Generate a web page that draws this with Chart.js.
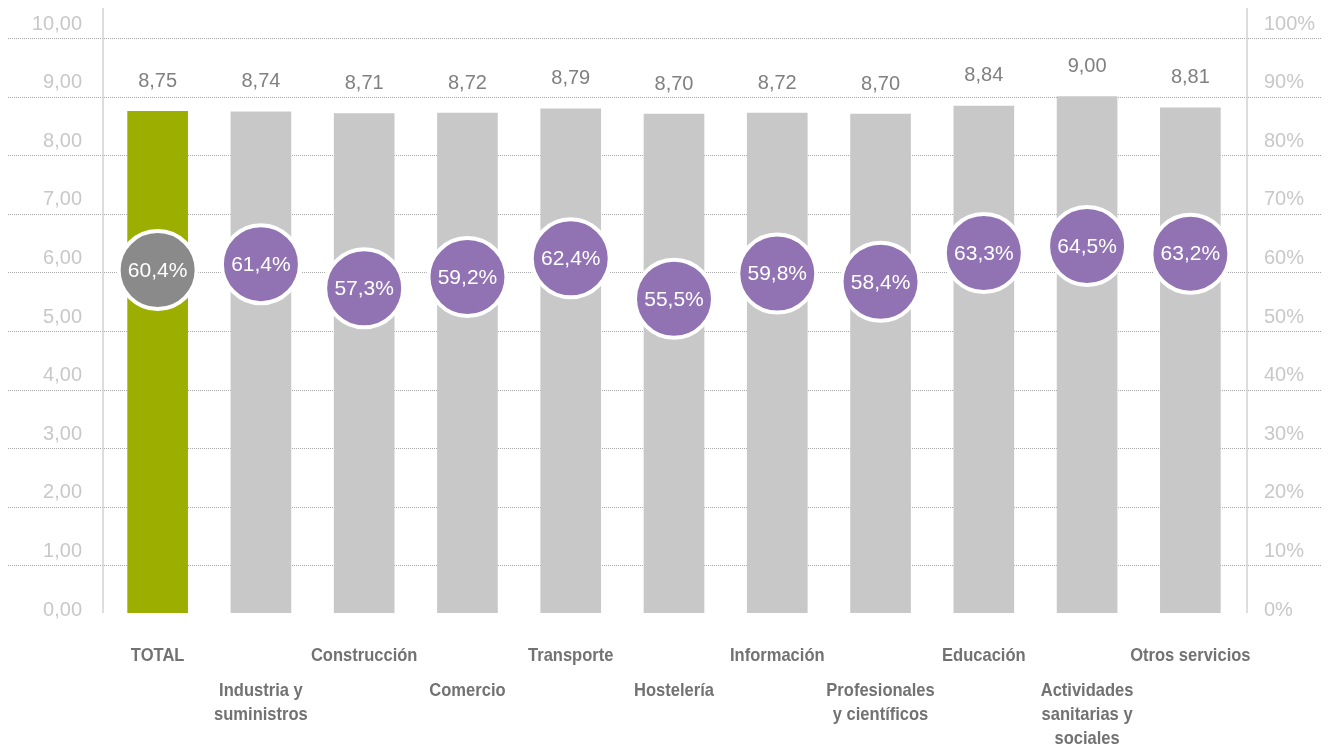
<!DOCTYPE html>
<html>
<head>
<meta charset="utf-8">
<script src="https://cdn.jsdelivr.net/npm/chart.js@4/dist/chart.umd.min.js"></script>
<style>
  html, body { margin:0; padding:0; background:#fff; }
  #wrap { width:1331px; height:754px; position:relative; }
</style>
</head>
<body>
<div id="wrap"><canvas id="myChart"></canvas></div>
<script>
const sectores = ['TOTAL', 'Industria y suministros', 'Construcción', 'Comercio', 'Transporte',
  'Hostelería', 'Información', 'Profesionales y científicos', 'Educación',
  'Actividades sanitarias y sociales', 'Otros servicios'];
// etiquetas partidas en lineas como en el grafico
const etiquetas = [['TOTAL'], ['Industria y', 'suministros'], ['Construcción'], ['Comercio'], ['Transporte'],
  ['Hostelería'], ['Información'], ['Profesionales', 'y científicos'], ['Educación'],
  ['Actividades', 'sanitarias y', 'sociales'], ['Otros servicios']];
const notas = [8.75, 8.74, 8.71, 8.72, 8.79, 8.70, 8.72, 8.70, 8.84, 9.00, 8.81];
const porcentajes = [60.4, 61.4, 57.3, 59.2, 62.4, 55.5, 59.8, 58.4, 63.3, 64.5, 63.2];

const coma = (v, d) => v.toFixed(d).replace('.', ',');

const extras = {
  id: 'extras',
  beforeDatasetsDraw(chart) {
    const c = chart.ctx, a = chart.chartArea, y = chart.scales.y;
    c.save();
    // lineas punteadas
    c.strokeStyle = '#a8a8a8';
    c.lineWidth = 1;
    c.setLineDash([1, 1]);
    for (let v = 1; v <= 10; v++) {
      const py = Math.round(y.getPixelForValue(v)) + 0.5;
      c.beginPath(); c.moveTo(8, py); c.lineTo(1322, py); c.stroke();
    }
    // ejes verticales
    c.setLineDash([]);
    c.strokeStyle = '#d2d2d2';
    c.lineWidth = 1.5;
    [a.left - 3, a.right + 5].forEach(px => {
      c.beginPath(); c.moveTo(px, 8); c.lineTo(px, a.bottom - 11); c.stroke();
    });
    c.restore();
  },
  afterDatasetsDraw(chart) {
    const c = chart.ctx, x = chart.scales.x;
    const barras = chart.getDatasetMeta(1).data;
    const puntos = chart.getDatasetMeta(0).data;
    c.save();
    c.textAlign = 'center';
    c.textBaseline = 'middle';
    c.font = '20px "Liberation Sans", Arial, sans-serif';
    c.fillStyle = '#808080';
    barras.forEach((b, i) => c.fillText(coma(notas[i], 2), b.x, b.y - 30));
    c.font = '21px "Liberation Sans", Arial, sans-serif';
    c.fillStyle = '#ffffff';
    puntos.forEach((p, i) => c.fillText(coma(porcentajes[i], 1) + '%', p.x, p.y + 1));
    c.font = 'bold 19px "Liberation Sans", Arial, sans-serif';
    c.fillStyle = '#727272';
    etiquetas.forEach((lin, i) => {
      const px = x.getPixelForValue(i);
      const y0 = i % 2 === 0 ? 656 : 691;
      lin.forEach((t, k) => {
        // letra estrecha
        c.save();
        c.translate(px, y0 + k * 24);
        c.scale(0.87, 1);
        c.fillText(t, 0, 0);
        c.restore();
      });
    });
    c.restore();
  }
};

const ctx = document.getElementById('myChart').getContext('2d');

// fuente de los ejes; la segunda linea vacia sube la etiqueta sobre su linea
const fuenteEje = { size: 20, lineHeight: 0.4, family: '"Liberation Sans", Arial, sans-serif' };

new Chart(ctx, {
  type: 'bar',
  data: {
    labels: sectores,
    datasets: [{
      type: 'line',
      data: porcentajes,
      yAxisID: 'y2',
      showLine: false,
      order: 0,
      pointRadius: 39,
      pointHoverRadius: 39,
      pointBorderWidth: 4,
      pointBorderColor: '#ffffff',
      pointBackgroundColor: ['#8a8a8a', '#9173b3', '#9173b3', '#9173b3', '#9173b3', '#9173b3',
        '#9173b3', '#9173b3', '#9173b3', '#9173b3', '#9173b3'],
      clip: false
    }, {
      data: notas,
      yAxisID: 'y',
      order: 1,
      barThickness: 60,
      backgroundColor: ['#9caf00', '#c8c8c8', '#c8c8c8', '#c8c8c8', '#c8c8c8', '#c8c8c8',
        '#c8c8c8', '#c8c8c8', '#c8c8c8', '#c8c8c8', '#c8c8c8'],
      clip: { left: false, right: false, top: false, bottom: -11 }
    }]
  },
  options: {
    responsive: true,
    maintainAspectRatio: false,
    animation: false,
    layout: { autoPadding: false, padding: { top: 38, bottom: 130, left: 0, right: 0 } },
    plugins: { legend: { display: false }, tooltip: { enabled: false } },
    scales: {
      x: {
        display: true,
        ticks: { display: false },
        grid: { display: false, drawTicks: false },
        border: { display: false }
      },
      y: {
        position: 'left',
        min: 0, max: 10,
        afterFit: s => { s.width = 106; s.paddingTop = 0; s.paddingBottom = 0; },
        ticks: {
          stepSize: 1,
          align: 'end',
          padding: 24,
          color: '#c8c8c8',
          font: fuenteEje,
          callback: v => [coma(v, 2), '']
        },
        grid: { display: false, drawTicks: false },
        border: { display: false }
      },
      y2: {
        position: 'right',
        min: 0, max: 100,
        afterFit: s => { s.width = 89; s.paddingTop = 0; s.paddingBottom = 0; },
        ticks: {
          stepSize: 10,
          align: 'end',
          padding: 22,
          color: '#c8c8c8',
          font: fuenteEje,
          callback: v => [v + '%', '']
        },
        grid: { display: false, drawTicks: false },
        border: { display: false }
      }
    }
  },
  plugins: [extras]
});
</script>
</body>
</html>
